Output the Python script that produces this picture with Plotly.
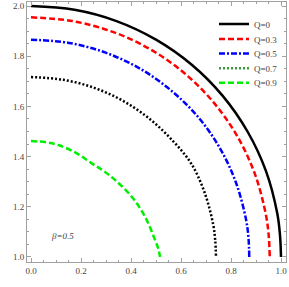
import plotly.graph_objects as go

# ---- data ----
q_labels = ["Q=0", "Q=0.3", "Q=0.5", "Q=0.7", "Q=0.9"]

x_q0 = [0, 0.174, 0.342, 0.5, 0.643, 0.766, 0.866, 0.940, 0.985, 0.996, 1.0]
y_q0 = [2.0, 1.985, 1.940, 1.866, 1.766, 1.643, 1.5, 1.342, 1.174, 1.087, 1.0]

x_q03 = [0, 0.166, 0.327, 0.478, 0.614, 0.732, 0.827, 0.897, 0.940, 0.951, 0.955]
y_q03 = [1.955, 1.940, 1.897, 1.827, 1.732, 1.614, 1.478, 1.327, 1.166, 1.083, 1.0]

x_q05 = [0, 0.152, 0.299, 0.437, 0.561, 0.669, 0.756, 0.820, 0.860, 0.870, 0.873]
y_q05 = [1.866, 1.853, 1.814, 1.750, 1.663, 1.557, 1.433, 1.296, 1.150, 1.075, 1.0]

x_q07 = [0, 0.129, 0.253, 0.370, 0.476, 0.567, 0.641, 0.695, 0.729, 0.737, 0.740]
y_q07 = [1.717, 1.706, 1.674, 1.621, 1.549, 1.463, 1.372, 1.255, 1.128, 1.064, 1.0]

x_q09 = [0, 0.06, 0.109, 0.18, 0.243, 0.29, 0.336, 0.403, 0.456, 0.496, 0.51, 0.516]
y_q09 = [1.462, 1.457, 1.446, 1.415, 1.373, 1.343, 1.307, 1.240, 1.161, 1.068, 1.03, 1.0]

x_ticks = [0.0, 0.2, 0.4, 0.6, 0.8, 1.0]
y_ticks = [1.0, 1.2, 1.4, 1.6, 1.8, 2.0]
beta_label = "β=0.5"

SERIF = "Liberation Serif, Times New Roman, serif"
FRAME = "#a0a0a0"
TXT = "#444444"

fig = go.Figure()

fig.add_trace(go.Scatter(x=x_q0, y=y_q0, mode="lines", name=q_labels[0], legend="legend",
                         line=dict(color="black", width=2.5, shape="spline")))
fig.add_trace(go.Scatter(x=x_q03, y=y_q03, mode="lines", name=q_labels[1], legend="legend2",
                         line=dict(color="#ff0000", width=2.5, dash="6px,3px", shape="spline")))
fig.add_trace(go.Scatter(x=x_q05, y=y_q05, mode="lines", name=q_labels[2], legend="legend3",
                         line=dict(color="#0000ff", width=2.5, dash="6px,2px,2px,2px", shape="spline")))
fig.add_trace(go.Scatter(x=x_q07, y=y_q07, mode="lines", name=q_labels[3], showlegend=False,
                         line=dict(color="black", width=2.5, dash="2px,2px", shape="spline")))
# legend entry for Q=0.7 (shown in green in the reference legend)
fig.add_trace(go.Scatter(x=[None], y=[None], mode="lines", name=q_labels[3], legend="legend4",
                         line=dict(color="#3c9a3c", width=2.5, dash="2px,2px")))
fig.add_trace(go.Scatter(x=x_q09, y=y_q09, mode="lines", name=q_labels[4], legend="legend5",
                         line=dict(color="#00ee00", width=2.5, dash="6px,3px", shape="spline")))

axis_common = dict(
    showgrid=False, zeroline=False, showline=True, linecolor=FRAME, linewidth=1,
    mirror="allticks", ticks="inside", ticklen=4, tickcolor=FRAME, tickwidth=1,
    automargin=False,
    tickfont=dict(family=SERIF, size=9, color=TXT),
    minor=dict(ticks="inside", ticklen=2, tickcolor=FRAME, dtick=0.05, showgrid=False),
)

fig.update_xaxes(range=[-0.016, 1.02], tickvals=x_ticks,
                 ticktext=[f"{v:.1f}" for v in x_ticks], **axis_common)
fig.update_yaxes(range=[0.98, 2.016], tickvals=y_ticks,
                 ticktext=[f"{v:.1f}" for v in y_ticks], **axis_common)

fig.add_annotation(x=0.125, y=1.082, xref="x", yref="y", text="<i>" + beta_label + "</i>",
                   showarrow=False, font=dict(family=SERIF, size=9, color=TXT))

legend_rows_px = [24, 39, 53.5, 68.3, 82.7]
plot_top, plot_h = 2, 260
legend_style = dict(x=0.722, xanchor="left", yanchor="middle", bgcolor="rgba(0,0,0,0)",
                    itemwidth=30, font=dict(family=SERIF, size=9, color=TXT))
legends = {}
for i, py in enumerate(legend_rows_px):
    key = "legend" if i == 0 else f"legend{i + 1}"
    legends[key] = dict(y=(plot_top + plot_h - py) / plot_h, **legend_style)

fig.update_layout(
    width=289, height=287,
    margin=dict(l=27, r=3, t=2, b=25),
    paper_bgcolor="white", plot_bgcolor="white",
    showlegend=True,
    **legends,
)

fig.write_html("out.html", config={"displayModeBar": False},
               post_script="document.body.style.margin='0px';")
